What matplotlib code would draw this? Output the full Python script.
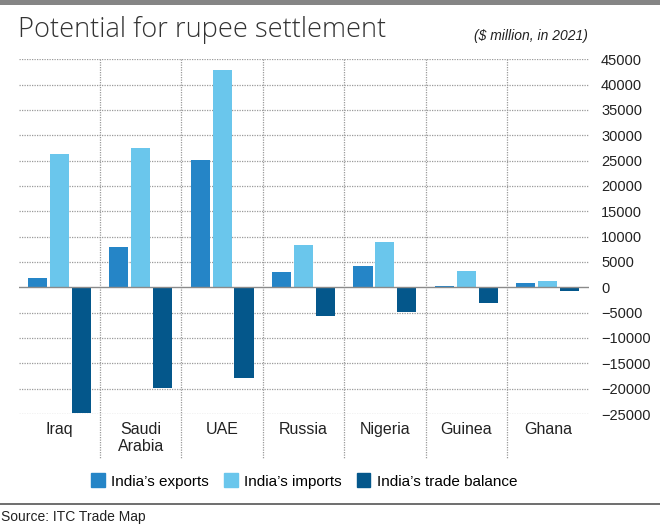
import numpy as np
import matplotlib
matplotlib.use("Agg")
import matplotlib.pyplot as plt
from matplotlib.patches import Patch
from matplotlib.lines import Line2D

countries = ["Iraq", "Saudi\nArabia", "UAE", "Russia", "Nigeria", "Guinea", "Ghana"]
exports = [1800, 8000, 25200, 3100, 4300, 350, 850]
imports = [26400, 27500, 42900, 8400, 8900, 3200, 1300]
balance = [-24900, -19800, -17900, -5600, -4900, -3100, -700]
yticks = list(range(-25000, 45001, 5000))

C_EXP = "#2585c7"
C_IMP = "#6ac6ec"
C_BAL = "#04578b"
GRID = "#9a9a9a"
COND = ["Liberation Sans Narrow", "Liberation Sans", "DejaVu Sans"]

fig = plt.figure(figsize=(6.6, 5.25), dpi=100)
fig.patch.set_facecolor("white")

# top grey band
fig.add_artist(plt.Rectangle((0, 1 - 5 / 525), 1, 5 / 525, transform=fig.transFigure,
                             color="#858585", lw=0))

ax = fig.add_axes([18.5 / 660, 111 / 525, 570 / 660, 354.7 / 525])
x = np.arange(len(countries))
w = 0.235
off = 0.27
ax.bar(x - off, exports, w, color=C_EXP, zorder=3)
ax.bar(x, imports, w, color=C_IMP, zorder=3)
ax.bar(x + off, balance, w, color=C_BAL, zorder=3)

ax.set_xlim(-0.5, len(countries) - 0.5)
ax.set_ylim(-25000, 45000)

for t in yticks:
    if t == 0:
        ax.axhline(0, color="#8a8a8a", lw=1.0, zorder=4)
    else:
        ax.axhline(t, color=GRID, lw=0.9, ls=(0, (1, 1)), zorder=1)
for b in np.arange(0.5, len(countries) - 0.5, 1):
    ax.add_line(Line2D([b, b], [45000, -33700], color=GRID, lw=0.9,
                       ls=(0, (1, 1)), zorder=1, clip_on=False))

for s in ax.spines.values():
    s.set_visible(False)
ax.set_yticks(yticks)
ax.yaxis.tick_right()
ax.tick_params(axis="y", length=0, pad=9, labelsize=10.5)
for lab in ax.get_yticklabels():
    lab.set_family(COND)
    lab.set_color("#222222")
ax.set_xticks(x)
ax.set_xticklabels(countries, family=COND, fontsize=11.5, color="#222222",
                   linespacing=1.1, va="top")
ax.tick_params(axis="x", length=0, pad=6)

fig.text(18 / 660, 1 - 30 / 525, "Potential for rupee settlement",
         family=["Open Sans", "DejaVu Sans"], fontweight=300, fontsize=19.6,
         color="#333333", va="center", ha="left")
fig.text(588 / 660, 1 - 36 / 525, "($ million, in 2021)", family=COND, style="italic",
         fontsize=10, color="#222222", va="center", ha="right")

handles = [Patch(color=C_EXP, label="India\u2019s exports"),
           Patch(color=C_IMP, label="India\u2019s imports"),
           Patch(color=C_BAL, label="India\u2019s trade balance")]
fig.legend(handles=handles, loc="center", bbox_to_anchor=(304 / 660, 1 - 481 / 525), ncol=3,
           frameon=False, handlelength=0.9, handleheight=1.0, handletextpad=0.4,
           columnspacing=1.0, prop={"family": COND, "size": 11})

fig.add_artist(Line2D([0, 1], [1 - 504 / 525, 1 - 504 / 525], transform=fig.transFigure,
                      color="#555555", lw=1.2))
fig.text(1 / 660, 1 - 517 / 525, "Source: ITC Trade Map", family=COND, fontsize=10,
         color="#222222", va="center", ha="left")

fig.savefig("out.png", dpi=100, facecolor="white")
